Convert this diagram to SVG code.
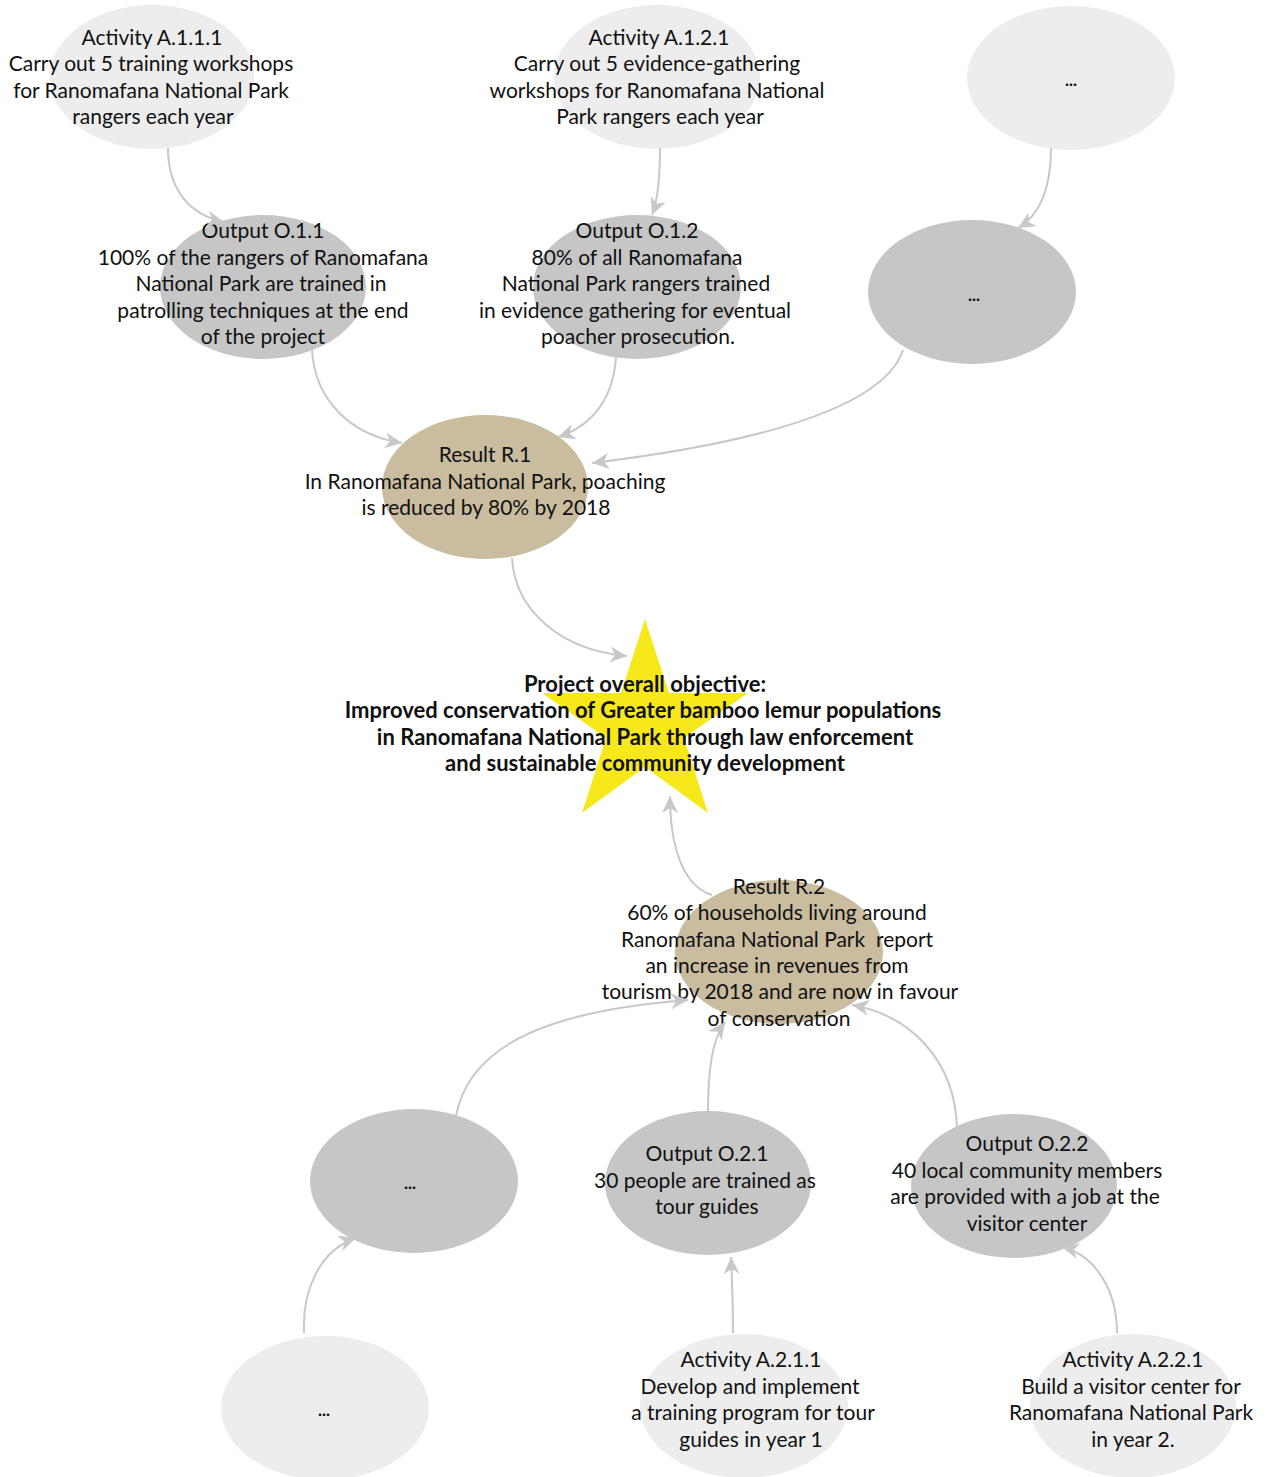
<svg xmlns="http://www.w3.org/2000/svg" width="1266" height="1477" viewBox="0 0 1266 1477">
<defs>
<style>
.act{fill:#ededed}
.out{fill:#c6c6c6}
.res{fill:#c9bc9f}
text{font-family:Lato,"Liberation Sans",sans-serif;font-size:21px;fill:#111;text-anchor:middle}
.dots{font-size:17px;font-weight:bold}
.obj{font-weight:bold;font-size:22px}
.conn path{fill:none;stroke:#c8c8c8;stroke-width:2;marker-end:url(#ah)}
</style>
<marker id="ah" markerUnits="userSpaceOnUse" markerWidth="20" markerHeight="18" refX="17" refY="8" orient="auto" viewBox="0 0 20 18">
<path d="M0,0 L17,8 L0,16 L5,8 z" fill="#c8c8c8"/>
</marker>
</defs>
<rect width="1266" height="1477" fill="#fff"/>

<g id="A111"><ellipse class="act" cx="152" cy="77" rx="102" ry="72"/>
<text x="152" y="45">Activity A.1.1.1</text><text x="151" y="71">Carry out 5 training workshops</text><text x="151" y="98">for Ranomafana National Park</text><text x="153" y="124">rangers each year</text></g>

<g id="A121"><ellipse class="act" cx="657" cy="77" rx="103" ry="72"/>
<text x="659" y="45">Activity A.1.2.1</text><text x="657" y="71">Carry out 5 evidence-gathering</text><text x="657" y="98">workshops for Ranomafana National</text><text x="660" y="124">Park rangers each year</text></g>

<g id="A1x"><ellipse class="act" cx="1071" cy="78" rx="104" ry="72"/>
<text class="dots" x="1071" y="86">...</text></g>

<g id="O11"><ellipse class="out" cx="263" cy="287" rx="103" ry="72"/>
<text x="263" y="238">Output O.1.1</text><text x="263" y="265">100% of the rangers of Ranomafana</text><text x="261" y="291">National Park are trained in</text><text x="263" y="318">patrolling techniques at the end</text><text x="263" y="344">of the project</text></g>

<g id="O12"><ellipse class="out" cx="637" cy="287" rx="104" ry="72"/>
<text x="637" y="238">Output O.1.2</text><text x="637" y="265">80% of all Ranomafana</text><text x="636" y="291">National Park rangers trained</text><text x="635" y="318">in evidence gathering for eventual</text><text x="638" y="344">poacher prosecution.</text></g>

<g id="O1x"><ellipse class="out" cx="972" cy="292" rx="104" ry="72"/>
<text class="dots" x="974" y="301">...</text></g>

<g id="R1"><ellipse class="res" cx="485" cy="487" rx="103" ry="72"/>
<text x="485" y="462">Result R.1</text><text x="485" y="489">In Ranomafana National Park, poaching</text><text x="486" y="515">is reduced by 80% by 2018</text></g>

<g id="objective"><polygon fill="#f7e81c" points="645,619 669,693 748,693 684,738 708,813 645,767 582,813 606,738 542,693 621,693"/>
<text class="obj" x="645" y="692">Project overall objective:</text><text class="obj" x="643" y="718">Improved conservation of Greater bamboo lemur populations</text><text class="obj" x="645" y="745">in Ranomafana National Park through law enforcement</text><text class="obj" x="645" y="771">and sustainable community development</text></g>

<g id="R2"><ellipse class="res" cx="779" cy="952" rx="104" ry="72"/>
<text x="779" y="894">Result R.2</text><text x="777" y="920">60% of households living around</text><text x="777" y="947" style="white-space:pre">Ranomafana National Park  report</text><text x="777" y="973">an increase in revenues from</text><text x="780" y="999">tourism by 2018 and are now in favour</text><text x="779" y="1026">of conservation</text></g>

<g id="O2x"><ellipse class="out" cx="414" cy="1181" rx="104" ry="72"/>
<text class="dots" x="410" y="1189">...</text></g>

<g id="O21"><ellipse class="out" cx="708" cy="1183" rx="103" ry="72"/>
<text x="707" y="1161">Output O.2.1</text><text x="705" y="1188">30 people are trained as</text><text x="707" y="1214">tour guides</text></g>

<g id="O22"><ellipse class="out" cx="1014" cy="1186" rx="103" ry="72"/>
<text x="1027" y="1151">Output O.2.2</text><text x="1027" y="1178">40 local community members</text><text x="1025" y="1204">are provided with a job at the</text><text x="1027" y="1231">visitor center</text></g>

<g id="A2x"><ellipse class="act" cx="325" cy="1408" rx="104" ry="72"/>
<text class="dots" x="324" y="1416">...</text></g>

<g id="A211"><ellipse class="act" cx="744" cy="1406" rx="104" ry="72"/>
<text x="751" y="1367">Activity A.2.1.1</text><text x="750" y="1394">Develop and implement</text><text x="753" y="1420">a training program for tour</text><text x="751" y="1447">guides in year 1</text></g>

<g id="A221"><ellipse class="act" cx="1133" cy="1406" rx="103" ry="72"/>
<text x="1133" y="1367">Activity A.2.2.1</text><text x="1131" y="1394">Build a visitor center for</text><text x="1131" y="1420">Ranomafana National Park</text><text x="1133" y="1447">in year 2.</text></g>

<g id="connectors" class="conn">
<path d="M168,148 C168,190 190,215 224,222"/>
<path d="M660,148 C660,180 658,200 652,215"/>
<path d="M1051,148 C1051,190 1040,215 1018,228"/>
<path d="M312,350 C315,400 350,435 402,443"/>
<path d="M616,356 C614,395 595,425 558,437"/>
<path d="M903,350 C880,420 700,450 592,463"/>
<path d="M512,558 C515,610 560,650 627,656"/>
<path d="M712,895 C680,885 670,840 670,796"/>
<path d="M708,1111 C708,1070 712,1040 725,1022"/>
<path d="M957,1128 C955,1060 910,1015 852,1005"/>
<path d="M456,1116 C470,1040 560,1010 688,1000"/>
<path d="M304,1333 C302,1290 320,1250 356,1238"/>
<path d="M733,1333 C733,1300 732,1280 731,1257"/>
<path d="M1117,1333 C1117,1290 1095,1255 1062,1247"/>
</g>
</svg>
